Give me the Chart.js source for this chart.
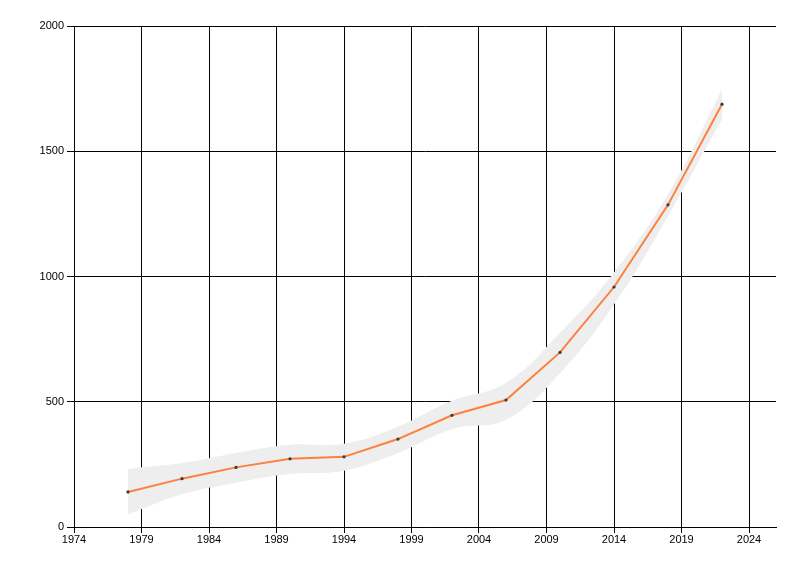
<!DOCTYPE html>
<html>
<head>
<meta charset="utf-8">
<script src="https://cdn.jsdelivr.net/npm/chart.js@4/dist/chart.umd.min.js"></script>
<style>
  html, body { margin: 0; padding: 0; background: #ffffff; }
  #wrap { width: 800px; height: 576px; }
</style>
</head>
<body>
<div id="wrap"><canvas id="c" width="800" height="576"></canvas></div>
<script>
const years = [1978, 1982, 1986, 1990, 1994, 1998, 2002, 2006, 2010, 2014, 2018, 2022];
const values = [140, 193, 238, 272, 280, 351, 446, 507, 697, 958, 1286, 1688];
const upperBand = [232, 255, 295, 328, 332, 401, 504, 575, 775, 1016, 1328, 1748];
const lowerBand = [51, 131, 177, 212, 225, 295, 391, 428, 614, 888, 1241, 1628];
const xTicks = [1974, 1979, 1984, 1989, 1994, 1999, 2004, 2009, 2014, 2019, 2024];
const yTicks = [0, 500, 1000, 1500, 2000];

const toPts = (arr) => years.map((x, i) => ({ x: x, y: arr[i] }));

new Chart(document.getElementById('c'), {
  type: 'line',
  data: {
    datasets: [
      {
        data: toPts(values),
        borderColor: '#ff7f3f',
        borderWidth: 2,
        tension: 0,
        pointRadius: 1.6,
        pointBackgroundColor: '#3a3a3a',
        pointBorderWidth: 0,
        fill: false
      },
      {
        data: toPts(upperBand),
        borderWidth: 0,
        borderColor: 'rgba(0,0,0,0)',
        backgroundColor: '#eeeeee',
        tension: 0.4,
        pointRadius: 0,
        fill: '+1'
      },
      {
        data: toPts(lowerBand),
        borderWidth: 0,
        borderColor: 'rgba(0,0,0,0)',
        backgroundColor: '#eeeeee',
        tension: 0.4,
        pointRadius: 0,
        fill: false
      }
    ]
  },
  options: {
    responsive: false,
    animation: false,
    layout: { padding: { top: 26, right: 24, left: 0, bottom: 0 } },
    plugins: { legend: { display: false }, tooltip: { enabled: false } },
    scales: {
      x: {
        type: 'linear',
        min: 1974,
        max: 2026,
        afterBuildTicks: (s) => { s.ticks = xTicks.map(v => ({ value: v })); },
        afterFit: (s) => { s.height = 49; },
        grid: { color: '#000000', lineWidth: 1, tickLength: 6, drawTicks: true },
        border: { color: '#000000', width: 1 },
        ticks: {
          color: '#000000',
          padding: 0,
          maxRotation: 0,
          autoSkip: false,
          font: { family: 'Liberation Sans, Arial, sans-serif', size: 11 },
          callback: (v) => String(v)
        }
      },
      y: {
        type: 'linear',
        min: 0,
        max: 2000,
        afterBuildTicks: (s) => { s.ticks = yTicks.map(v => ({ value: v })); },
        afterFit: (s) => { s.width = 74; },
        grid: { color: '#000000', lineWidth: 1, tickLength: 7, drawTicks: true },
        border: { color: '#000000', width: 1 },
        ticks: {
          color: '#000000',
          padding: 3,
          autoSkip: false,
          font: { family: 'Liberation Sans, Arial, sans-serif', size: 11 },
          callback: (v) => String(v)
        }
      }
    }
  }
});
</script>
</body>
</html>
